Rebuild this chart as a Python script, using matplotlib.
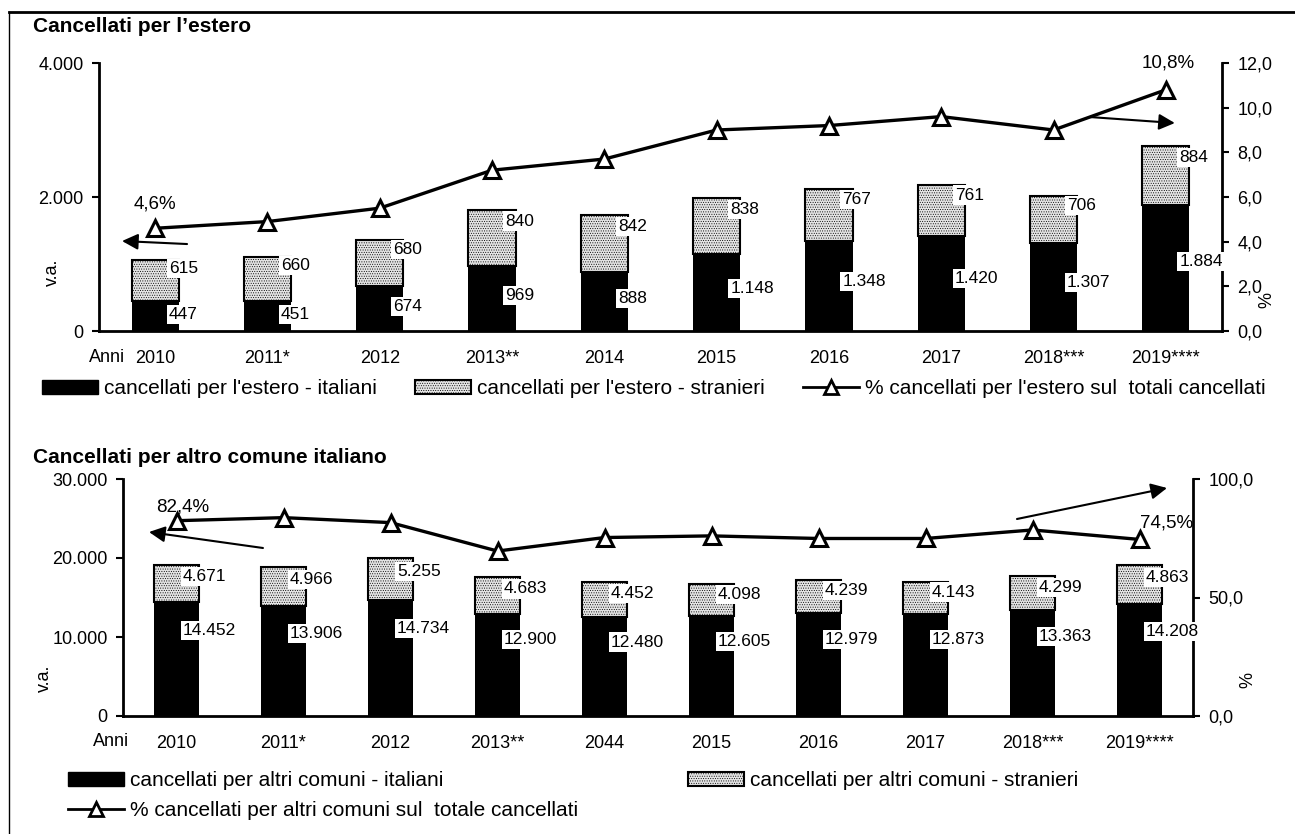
import matplotlib
matplotlib.use('Agg')
import matplotlib.pyplot as plt
from matplotlib.patches import Patch
from matplotlib.lines import Line2D
import numpy as np

plt.rcParams['font.family'] = ['Liberation Sans', 'DejaVu Sans']
plt.rcParams['hatch.color'] = '#bcbcbc'
plt.rcParams['hatch.linewidth'] = 0.4

# --- data ---
years_est = ['2010', '2011*', '2012', '2013**', '2014', '2015', '2016', '2017', '2018***', '2019****']
est_ita = [447, 451, 674, 969, 888, 1148, 1348, 1420, 1307, 1884]
est_str = [615, 660, 680, 840, 842, 838, 767, 761, 706, 884]
est_pct = [4.6, 4.9, 5.5, 7.2, 7.7, 9.0, 9.2, 9.6, 9.0, 10.8]

years_com = ['2010', '2011*', '2012', '2013**', '2044', '2015', '2016', '2017', '2018***', '2019****']
com_ita = [14452, 13906, 14734, 12900, 12480, 12605, 12979, 12873, 13363, 14208]
com_str = [4671, 4966, 5255, 4683, 4452, 4098, 4239, 4143, 4299, 4863]
com_pct = [82.4, 83.7, 81.6, 69.6, 75.3, 76.0, 74.9, 74.9, 78.5, 74.5]

W, H = 1295, 834
fig = plt.figure(figsize=(W / 100, H / 100), dpi=100)

def fx(px):
    return px / W

def fy(py):
    return 1 - py / H

def thousands(v):
    return f"{v:,.0f}".replace(',', '.')

def dec(v):
    return f"{v:.1f}".replace('.', ',')

STR_FACE = '#e4e4e4'
STR_HATCH = '.......'
BAR_W = 0.42
LBL_FS = 12.5
TICK_FS = 13
LEG_FS = 15

def draw_panel(rect, years, ita, stra, pct, lmax, lstep, rmax, rstep,
               fi, fs, xoff):
    ax = fig.add_axes(rect)
    ax2 = ax.twinx()
    x = np.arange(len(years))
    ita = np.array(ita)
    stra = np.array(stra)

    ax.bar(x, ita, width=BAR_W, color='black', zorder=2)
    ax.bar(x, stra, bottom=ita, width=BAR_W, facecolor=STR_FACE, hatch=STR_HATCH,
           edgecolor='black', linewidth=1.5, zorder=2)

    ax2.plot(x, pct, color='black', lw=2.4, marker='^', markersize=12,
             markerfacecolor='white', markeredgecolor='black', markeredgewidth=2.2, zorder=4)

    box = dict(boxstyle='square,pad=0.12', fc='white', ec='none')
    for i in range(len(x)):
        ax2.text(x[i] + xoff, ita[i] * fi, thousands(ita[i]), transform=ax.transData,
                 ha='left', va='center', fontsize=LBL_FS, bbox=box, zorder=6, clip_on=False)
        ax2.text(x[i] + xoff, ita[i] + stra[i] * fs, thousands(stra[i]), transform=ax.transData,
                 ha='left', va='center', fontsize=LBL_FS, bbox=box, zorder=6, clip_on=False)

    ax.set_xlim(-0.5, len(x) - 0.5)
    ax.set_ylim(0, lmax)
    ax2.set_ylim(0, rmax)
    lt = np.arange(0, lmax + 1, lstep)
    ax.set_yticks(lt)
    ax.set_yticklabels([thousands(v) for v in lt])
    rt = np.arange(0, rmax + 0.01, rstep)
    ax2.set_yticks(rt)
    ax2.set_yticklabels([dec(v) for v in rt])
    ax.set_xticks(x)
    ax.set_xticklabels(years)

    for s in ['top', 'right']:
        ax.spines[s].set_visible(False)
    for s in ['top', 'left', 'bottom']:
        ax2.spines[s].set_visible(False)
    ax.spines['left'].set_linewidth(2)
    ax.spines['bottom'].set_linewidth(2)
    ax2.spines['right'].set_linewidth(2)
    ax.tick_params(axis='x', length=0, pad=14, labelsize=TICK_FS)
    ax.tick_params(axis='y', length=5, width=1.5, pad=6, labelsize=TICK_FS)
    ax2.tick_params(axis='y', length=5, width=1.5, pad=6, labelsize=TICK_FS)
    return ax, ax2

arrow = dict(arrowstyle='-|>', color='black', lw=1.5, mutation_scale=24, shrinkA=0, shrinkB=0)
PCT_FS = 13.5

# --- top panel ---
ax, ax2 = draw_panel([fx(99), fy(331), fx(1222 - 99), (331 - 63) / H],
                     years_est, est_ita, est_str, est_pct,
                     4000, 2000, 12, 2, 0.55, 0.8, 0.12)
ax2.annotate(dec(est_pct[0]) + '%', (0, est_pct[0]), xytext=(0, 24), textcoords='offset pixels',
             ha='center', va='center', fontsize=PCT_FS)
ax2.annotate(dec(est_pct[-1]) + '%', (9, est_pct[-1]), xytext=(2, 27), textcoords='offset pixels',
             ha='center', va='center', fontsize=PCT_FS)
ax2.annotate('', xy=(-0.295, 1343), xytext=(0.284, 1298), xycoords=ax.transData,
             textcoords=ax.transData, arrowprops=arrow, annotation_clip=False)
ax2.annotate('', xy=(9.08, 3104), xytext=(8.32, 3194), xycoords=ax.transData,
             textcoords=ax.transData, arrowprops=arrow, annotation_clip=False)

fig.text(fx(33), fy(26), 'Cancellati per l\u2019estero', fontsize=15, fontweight='bold', va='center')
fig.text(fx(52), fy(272), 'v.a.', rotation=90, fontsize=TICK_FS, ha='center', va='center')
fig.text(fx(1267), fy(300), '%', rotation=90, fontsize=TICK_FS, ha='center', va='center')
fig.text(fx(89), fy(357), 'Anni', fontsize=TICK_FS, ha='left', va='center')

h_ita = Patch(facecolor='black', edgecolor='black')
h_str = Patch(facecolor=STR_FACE, hatch=STR_HATCH, edgecolor='black', linewidth=1.5)
h_pct = Line2D([], [], color='black', lw=2, marker='^', markersize=10,
               markerfacecolor='white', markeredgecolor='black', markeredgewidth=2)

fig.legend([h_ita, h_str, h_pct],
           ["cancellati per l'estero - italiani", "cancellati per l'estero - stranieri",
            "% cancellati per l'estero sul  totali cancellati"],
           loc='center left', bbox_to_anchor=(fx(50 - 8), fy(389)), ncol=3, frameon=False,
           fontsize=LEG_FS, handlelength=2.7, handleheight=0.65, handletextpad=0.3,
           columnspacing=1.8, borderaxespad=0, borderpad=0)

# --- bottom panel ---
bx, bx2 = draw_panel([fx(123), fy(716), fx(1193 - 123), (716 - 479) / H],
                     years_com, com_ita, com_str, com_pct,
                     30000, 10000, 100, 50, 0.75, 0.68, 0.06)
bx2.annotate(dec(com_pct[0]) + '%', (0, com_pct[0]), xytext=(6, 14), textcoords='offset pixels',
             ha='center', va='center', fontsize=PCT_FS)
bx2.annotate(dec(com_pct[-1]) + '%', (9, com_pct[-1]), xytext=(27, 16), textcoords='offset pixels',
             ha='center', va='center', fontsize=PCT_FS)
bx2.annotate('', xy=(-0.257, 23291), xytext=(0.808, 21266), xycoords=bx.transData,
             textcoords=bx.transData, arrowprops=arrow, annotation_clip=False)
bx2.annotate('', xy=(9.257, 28861), xytext=(7.855, 24937), xycoords=bx.transData,
             textcoords=bx.transData, arrowprops=arrow, annotation_clip=False)

fig.text(fx(33), fy(457), 'Cancellati per altro comune italiano', fontsize=15, fontweight='bold', va='center')
fig.text(fx(44), fy(678), 'v.a.', rotation=90, fontsize=TICK_FS, ha='center', va='center')
fig.text(fx(1248), fy(680), '%', rotation=90, fontsize=TICK_FS, ha='center', va='center')
fig.text(fx(93), fy(742), 'Anni', fontsize=TICK_FS, ha='left', va='center')

h_pct2 = Line2D([], [], color='black', lw=2, marker='^', markersize=10,
                markerfacecolor='white', markeredgecolor='black', markeredgewidth=2)
fig.legend([h_ita, h_pct2],
           ["cancellati per altri comuni - italiani",
            "% cancellati per altri comuni sul  totale cancellati"],
           loc='upper left', bbox_to_anchor=(fx(76 - 8), fy(771)), ncol=1, frameon=False,
           fontsize=LEG_FS, handlelength=2.7, handleheight=0.65, handletextpad=0.3,
           labelspacing=0.55, borderaxespad=0, borderpad=0)
fig.legend([h_str], ["cancellati per altri comuni - stranieri"],
           loc='upper left', bbox_to_anchor=(fx(696 - 8), fy(771)), frameon=False,
           fontsize=LEG_FS, handlelength=2.7, handleheight=0.65, handletextpad=0.3,
           borderaxespad=0, borderpad=0)

# frame lines
fig.add_artist(Line2D([fx(9), 1], [fy(12), fy(12)], color='black', lw=2, transform=fig.transFigure))
fig.add_artist(Line2D([fx(9), fx(9)], [fy(12), 0], color='black', lw=1, transform=fig.transFigure))

fig.savefig('out.png', dpi=100)
